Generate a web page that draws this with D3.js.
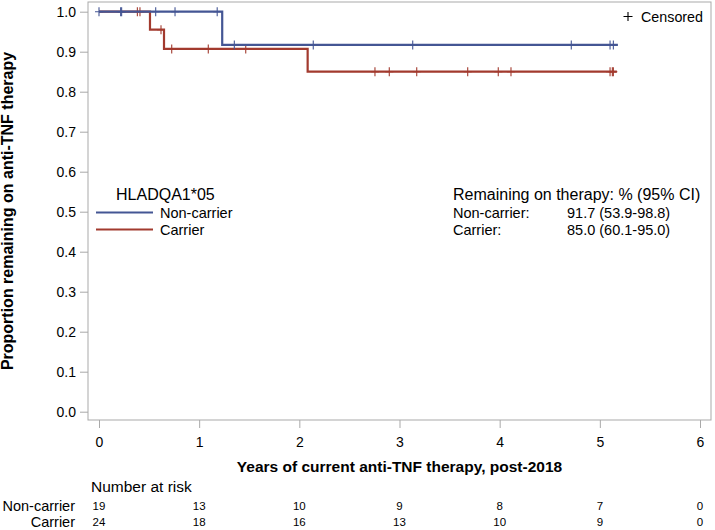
<!DOCTYPE html>
<html>
<head>
<meta charset="utf-8">
<script src="https://cdn.jsdelivr.net/npm/d3@7/dist/d3.min.js"></script>
<style>
  html, body { margin: 0; padding: 0; background: #fff; }
  svg text { font-family: "Liberation Sans", Arial, Helvetica, sans-serif; fill: #000; }
</style>
</head>
<body>
<svg id="chart" width="715" height="530"></svg>
<script>
// ---------- Data ----------
const groups = ["Non-carrier", "Carrier"];
const groupColors = ["#445694", "#A23A2E"];

// Kaplan-Meier step changes (time in years, survival proportion)
const nonCarrierTimes = [0, 1.23];
const nonCarrierSurv  = [1.0, 0.917];
const nonCarrierEnd   = 5.18;
const nonCarrierCensor = [0.0, 0.216, 0.226, 0.566, 0.759, 1.18, 1.351, 2.139, 3.132, 4.715, 5.102, 5.135];

const carrierTimes = [0, 0.509, 0.649, 2.083];
const carrierSurv  = [1.0, 0.955, 0.907, 0.850];
const carrierEnd   = 5.17;
const carrierCensor = [0.383, 0.409, 0.619, 0.726, 1.091, 1.465, 2.755, 2.898, 3.172, 3.681, 3.986, 4.113, 5.102, 5.125, 5.135];

const xTicks = [0, 1, 2, 3, 4, 5, 6];
const yTicks = [0, 0.1, 0.2, 0.3, 0.4, 0.5, 0.6, 0.7, 0.8, 0.9, 1.0];

const atRiskNonCarrier = [19, 13, 10, 9, 8, 7, 0];
const atRiskCarrier    = [24, 18, 16, 13, 10, 9, 0];

const ciTitle = "Remaining on therapy: % (95% CI)";
const ciLabels = ["Non-carrier:", "Carrier:"];
const ciValues = ["91.7 (53.9-98.8)", "85.0 (60.1-95.0)"];

const legendTitle = "HLADQA1*05";
const xTitle = "Years of current anti-TNF therapy, post-2018";
const yTitle = "Proportion remaining on anti-TNF therapy";

// ---------- Layout ----------
const svg = d3.select("#chart");
const frame = { left: 88, top: 2, right: 711, bottom: 420 };
const x = d3.scaleLinear().domain([0, 6]).range([99, 700]);
const y = d3.scaleLinear().domain([0, 1]).range([411.7, 11.7]);
const axisColor = "#a9a9a9";

// Frame
svg.append("rect")
  .attr("x", frame.left).attr("y", frame.top)
  .attr("width", frame.right - frame.left).attr("height", frame.bottom - frame.top)
  .attr("fill", "none").attr("stroke", axisColor).attr("stroke-width", 1);

// Y axis
const yAxis = d3.axisLeft(y).tickValues(yTicks).tickFormat(d3.format(".1f")).tickSize(8).tickPadding(4);
const gy = svg.append("g").attr("transform", `translate(${frame.left},0)`).call(yAxis);
gy.select(".domain").remove();
gy.selectAll(".tick line").attr("stroke", axisColor);
gy.selectAll(".tick text").style("font-size", "14px").attr("fill", "#000");

// X axis
const xAxis = d3.axisBottom(x).tickValues(xTicks).tickFormat(d3.format("d")).tickSize(8).tickPadding(9);
const gx = svg.append("g").attr("transform", `translate(0,${frame.bottom})`).call(xAxis);
gx.select(".domain").remove();
gx.selectAll(".tick line").attr("stroke", axisColor);
gx.selectAll(".tick text").style("font-size", "14px").attr("fill", "#000");

// Axis titles
svg.append("text")
  .attr("x", (frame.left + frame.right) / 2).attr("y", 472)
  .attr("text-anchor", "middle").style("font-size", "15.5px").style("font-weight", "bold")
  .text(xTitle);
svg.append("text")
  .attr("transform", `translate(13,${(frame.top + frame.bottom) / 2}) rotate(-90)`)
  .attr("text-anchor", "middle").style("font-size", "16px").style("font-weight", "bold")
  .text(yTitle);

// ---------- Curves ----------
function stepPoints(times, surv, end) {
  const pts = [];
  for (let i = 0; i < times.length; i++) {
    if (i > 0) pts.push([times[i], surv[i - 1]]);
    pts.push([times[i], surv[i]]);
  }
  pts.push([end, surv[surv.length - 1]]);
  return pts;
}
function survAt(times, surv, t) {
  let s = surv[0];
  for (let i = 0; i < times.length; i++) if (times[i] <= t) s = surv[i];
  return s;
}
const line = d3.line().x(d => x(d[0])).y(d => y(d[1]));

const series = [
  { times: nonCarrierTimes, surv: nonCarrierSurv, end: nonCarrierEnd, censor: nonCarrierCensor, color: groupColors[0] },
  { times: carrierTimes, surv: carrierSurv, end: carrierEnd, censor: carrierCensor, color: groupColors[1] }
];

[series[1], series[0]].forEach(s => {
  svg.append("path")
    .attr("d", line(stepPoints(s.times, s.surv, s.end)))
    .attr("fill", "none").attr("stroke", s.color).attr("stroke-width", 2.2)
    .attr("stroke-linejoin", "miter");
  const g = svg.append("g");
  s.censor.forEach(t => {
    const cx = x(t), cy = y(survAt(s.times, s.surv, t));
    g.append("path")
      .attr("d", `M${cx},${cy - 4.5}V${cy + 4.5}M${cx - 4},${cy}H${cx + 4}`)
      .attr("stroke", s.color).attr("stroke-width", 1.1).attr("fill", "none");
  });
});

// Censored legend
const cmx = 628, cmy = 16.5;
svg.append("path")
  .attr("d", `M${cmx},${cmy - 4.5}V${cmy + 4.5}M${cmx - 4.5},${cmy}H${cmx + 4.5}`)
  .attr("stroke", "#000").attr("stroke-width", 1.1);
svg.append("text").attr("x", 641).attr("y", 21.5).style("font-size", "14.3px").text("Censored");

// Group legend
svg.append("text").attr("x", 116).attr("y", 200).style("font-size", "16px").text(legendTitle);
groups.forEach((g, i) => {
  const ly = 212.5 + i * 17;
  svg.append("line").attr("x1", 96).attr("x2", 153).attr("y1", ly).attr("y2", ly)
    .attr("stroke", groupColors[i]).attr("stroke-width", 2.2);
  svg.append("text").attr("x", 160).attr("y", ly + 5).style("font-size", "14.5px").text(g);
});

// CI inset
svg.append("text").attr("x", 453).attr("y", 200).style("font-size", "16px").text(ciTitle);
ciLabels.forEach((lab, i) => {
  const ly = 218 + i * 17;
  svg.append("text").attr("x", 453).attr("y", ly).style("font-size", "14.5px").text(lab);
  svg.append("text").attr("x", 567).attr("y", ly).style("font-size", "14.5px").text(ciValues[i]);
});

// ---------- Number at risk ----------
svg.append("text").attr("x", 91).attr("y", 492).style("font-size", "15.5px").text("Number at risk");
const riskRows = [atRiskNonCarrier, atRiskCarrier];
riskRows.forEach((row, i) => {
  const ry = 510.5 + i * 16;
  svg.append("text").attr("x", 75).attr("y", ry).attr("text-anchor", "end")
    .style("font-size", "14.5px").text(groups[i]);
  svg.selectAll(null).data(row).enter().append("text")
    .attr("x", (d, j) => x(xTicks[j])).attr("y", ry - 0.5)
    .attr("text-anchor", "middle").style("font-size", "11.5px")
    .text(d => d);
});
</script>
</body>
</html>
